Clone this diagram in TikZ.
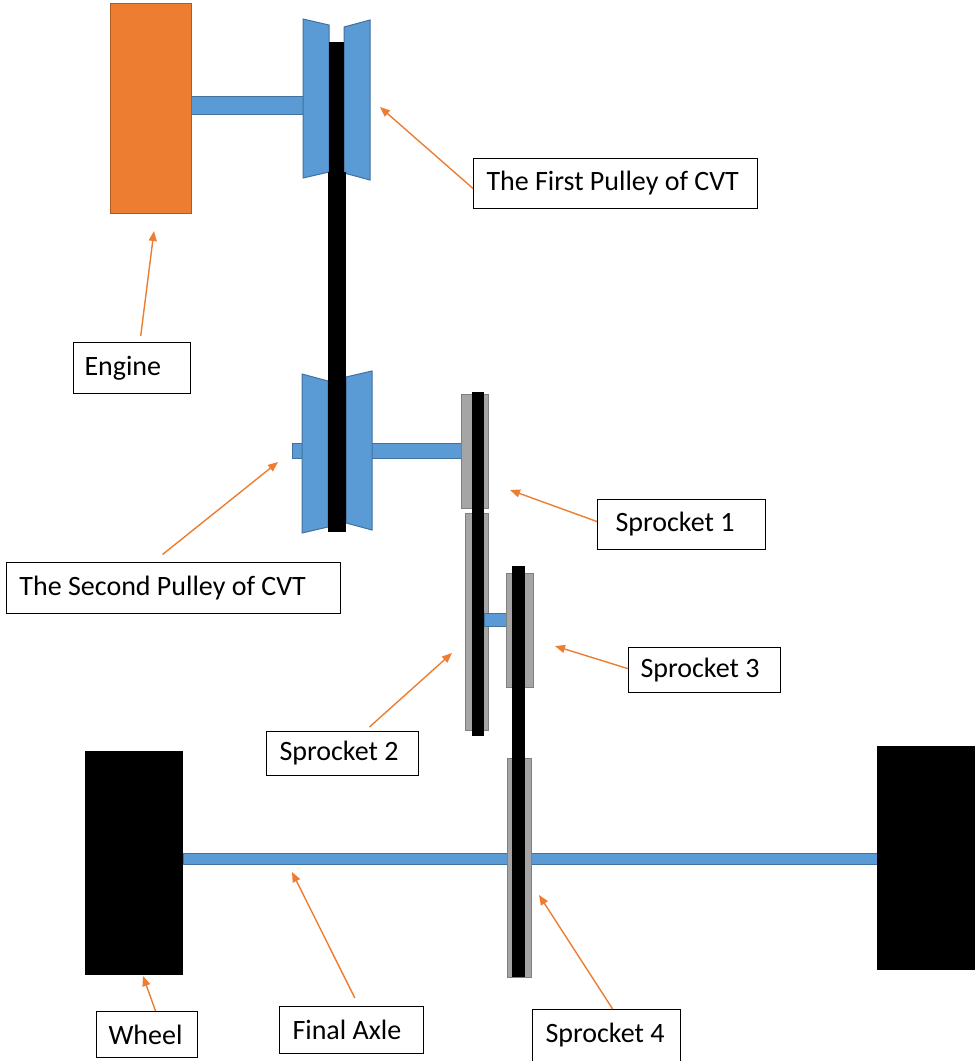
\documentclass[tikz,border=0pt]{standalone}
\usepackage{fontspec}
\setmainfont{Carlito}
\usetikzlibrary{arrows.meta}
\definecolor{partblue}{HTML}{5B9BD5}
\definecolor{partblueline}{HTML}{41719C}
\definecolor{partorange}{HTML}{ED7D31}
\definecolor{partorangeline}{HTML}{AE5A21}
\definecolor{partgray}{HTML}{A5A5A5}
\definecolor{partgrayline}{HTML}{7F7F7F}
\newcommand{\capttext}[2]{\makebox[#1][l]{#2}}
\tikzset{
    blue part/.style={draw=partblueline, fill=partblue, line width=1pt},
    gray part/.style={draw=partgrayline, fill=partgray, line width=1pt},
    black part/.style={fill=black},
    caption/.style={draw=black, fill=white, line width=1pt, anchor=north west, inner xsep=13pt, inner ysep=0pt,
            font=\fontsize{28}{32}\selectfont},
    pointer/.style={draw=partorange, line width=1.4pt, -{Triangle[length=10pt, width=8pt]}}
}
\begin{document}
\begin{tikzpicture}[x=1pt, y=-1pt]
            \useasboundingbox (0,0) rectangle (976,1061);

            % engine and first pulley
            \draw[blue part] (191,96) rectangle (303,114);
            \draw[draw=partorangeline, fill=partorange, line width=1pt] (110,3) rectangle (191,213);
            \draw[blue part] (303,19) -- (329,25) -- (329,172) -- (303,178) -- cycle;
            \draw[blue part] (370,20) -- (344,27) -- (344,173) -- (370,180) -- cycle;

            % second pulley
            \draw[blue part] (292,443) rectangle (461,458);
            \draw[blue part] (302,374) -- (328,381) -- (328,527) -- (302,533) -- cycle;
            \draw[blue part] (372,371) -- (346,377) -- (346,523) -- (372,530) -- cycle;
            \fill[black part] (329,42) rectangle (344,172);
            \fill[black part] (328,172) rectangle (346,532);

            % sprockets
            \draw[gray part] (461,394) rectangle (488,508);
            \draw[gray part] (465,513) rectangle (488,730);
            \fill[black part] (472,392) rectangle (484,736);
            \draw[blue part] (484,613) rectangle (508,626);
            \draw[gray part] (506,573) rectangle (533,687);

            % axle and wheels
            \draw[blue part] (183,853) rectangle (877,864);
            \draw[gray part] (507,758) rectangle (531,977);
            \fill[black part] (512,566) rectangle (525,977);
            \fill[black part] (85,751) rectangle (183,975);
            \fill[black part] (877,746) rectangle (975,970);

            % captions
            \node[caption, minimum height=50pt] (first) at (473,158) {\capttext{258pt}{The First Pulley of CVT}};
            \node[caption, minimum height=51pt, inner xsep=11pt] (engine) at (73,342) {\capttext{95pt}{Engine}};
            \node[caption, minimum height=51pt] (second) at (6,562) {\capttext{308pt}{The Second Pulley of CVT}};
            \node[caption, minimum height=50pt, inner xsep=18pt] (sp1) at (597,499) {\capttext{132pt}{Sprocket 1}};
            \node[caption, minimum height=45pt, inner xsep=12pt] (sp3) at (628,647) {\capttext{128pt}{Sprocket 3}};
            \node[caption, minimum height=44pt] (sp2) at (266,731) {\capttext{126pt}{Sprocket 2}};
            \node[caption, minimum height=46pt, inner xsep=12pt] (wheel) at (96,1011) {\capttext{77pt}{Wheel}};
            \node[caption, minimum height=47pt] (axle) at (279,1006) {\capttext{118pt}{Final Axle}};
            \node[caption, minimum height=52pt] (sp4) at (532,1009) {\capttext{122pt}{Sprocket 4}};

            \coordinate (firstTip) at (380,107);
            \coordinate (engineTip) at (154,231);
            \coordinate (secondTip) at (278,462);
            \coordinate (sp1Tip) at (510,490);
            \coordinate (sp3Tip) at (555,646);
            \coordinate (sp2Tip) at (452,653);
            \coordinate (wheelTip) at (143,976);
            \coordinate (axleTip) at (292,872);
            \coordinate (sp4Tip) at (539,895);

            \begin{scope}[every path/.style={pointer}]
                \path (first.182) -- (firstTip);
                \path[shorten <=6pt] (engine.73) -- (engineTip);
                \path[shorten <=12pt] (second.128) -- (secondTip);
                \path (sp1.178) -- (sp1Tip);
                \path (sp3.179) -- (sp3Tip);
                \path[shorten <=6pt] (sp2.45) -- (sp2Tip);
                \path (wheel.70) -- (wheelTip);
                \path[shorten <=9pt] (axle.73) -- (axleTip);
                \path (sp4.77) -- (sp4Tip);
            \end{scope}

        \end{tikzpicture}
\end{document}
